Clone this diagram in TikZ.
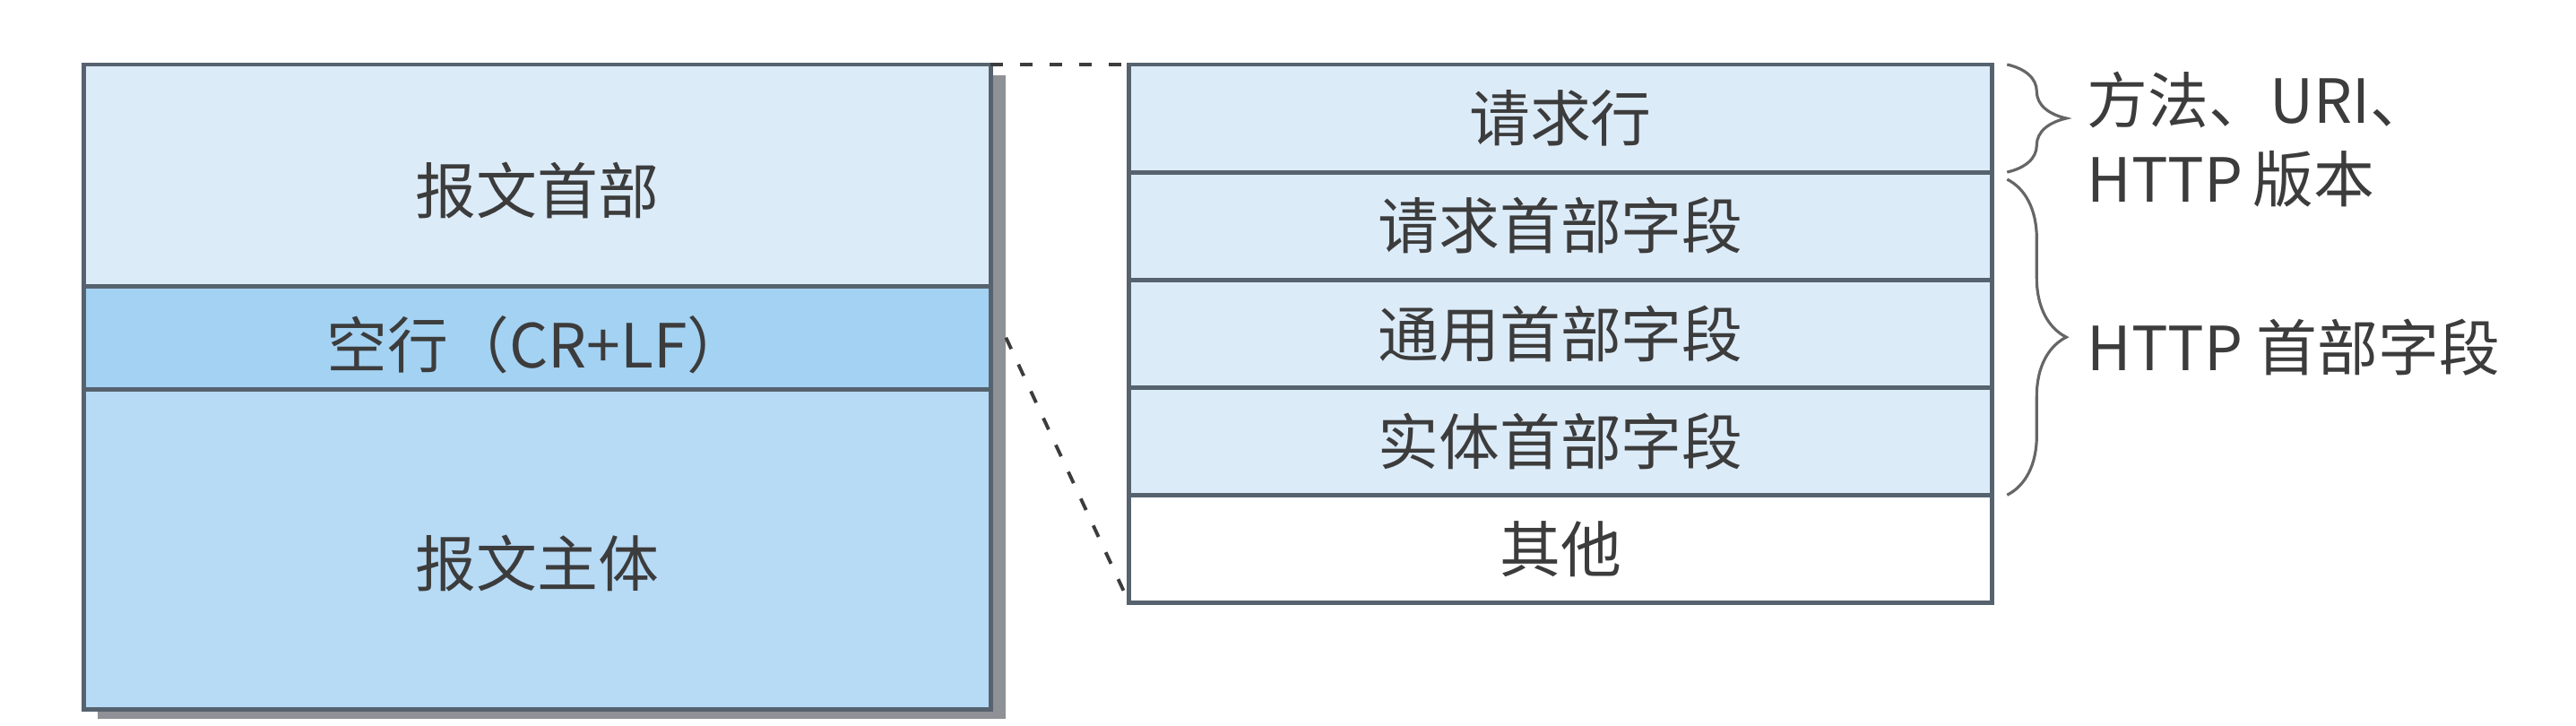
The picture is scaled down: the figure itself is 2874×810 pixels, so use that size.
\documentclass[tikz,border=0pt]{standalone}
\usepackage{fontspec}
\setmainfont{Noto Sans CJK SC}
\usepackage{xcolor}
\usetikzlibrary{positioning}
\usetikzlibrary{decorations.pathreplacing}
\definecolor{framecol}{HTML}{56636F}
\definecolor{palebl}{HTML}{DCEBF8}
\definecolor{midbl}{HTML}{A3D2F3}
\definecolor{bodybl}{HTML}{B7DAF5}
\definecolor{shadecol}{HTML}{8E9195}
\definecolor{inkcol}{HTML}{3C3C3C}
\definecolor{bracecol}{HTML}{666666}

\begin{document}
\begin{tikzpicture}[x=0.01cm,y=-0.01cm,
	lbl/.style={text=inkcol,inner sep=0pt,font=\fontsize{19.3}{25}\selectfont},
	part/.style={draw=framecol,line width=1.4pt,minimum width=10.11cm,inner sep=0pt,outer sep=0pt,anchor=north},
	row/.style={lbl,draw=framecol,line width=1.4pt,fill=palebl,minimum width=9.62cm,minimum height=1.2cm,outer sep=0pt,anchor=north},
	joinline/.style={draw=inkcol,line width=1.1pt,dash pattern=on 0.14cm off 0.19cm},
	curly/.style={draw=bracecol,line width=0.9pt,decorate,decoration={brace,amplitude=0.66cm,aspect=0.5}}]
		\def \lx {94};
		\def \rx {1105};
		\def \top {72};
		\def \bot {790};
		\path[fill=white,use as bounding box] (0,0) rectangle (2874,810);
		% shadow of the message box
		\fill[shadecol] (\lx+15,\top+12) rectangle (\rx+17,\bot+12);
		% message
		\node[part,fill=palebl,minimum height=2.47cm] (hdr) at ({(\lx+\rx)/2},\top) {};
		\node[part,fill=midbl,minimum height=1.15cm,below=0pt of hdr] (blank) {};
		\node[part,fill=bodybl,minimum height=3.57cm,below=0pt of blank] (body) {};
		\node[lbl] (hdrtxt) at ([yshift=-0.17cm]hdr.center) {报文首部};
		\node[lbl] (blanktxt) at ([yshift=-0.08cm]blank.center) {空行（CR+LF）};
		\node[lbl] (bodytxt) at ([yshift=-0.16cm]body.center) {报文主体};
		% header in detail
		\node[row] (reqline) at (1741,\top) {请求行};
		\foreach \nm/\txt [remember=\nm as \prev (initially reqline)] in {reqhdr/请求首部字段,genhdr/通用首部字段,enthdr/实体首部字段}
		{
			\node[row,below=0pt of \prev] (\nm) {\txt};
		}
		\node[row,fill=white,below=0pt of enthdr] (other) {其他};
		\draw[joinline] (hdr.north east) -- (reqline.north west);
		\draw[joinline] ([xshift=0.17cm]blank.east) -- (other.south west);
		% braces
		\draw[curly] ([xshift=0.17cm]reqline.north east) -- ([xshift=0.17cm]reqline.south east);
		\draw[curly] ([xshift=0.17cm,yshift=-0.08cm]reqhdr.north east) -- ([xshift=0.17cm]enthdr.south east);
		\node[lbl,anchor=west,align=left] (reqnote) at (2328,156) {方法、URI、\\HTTP\,版本};
		\node[lbl,anchor=west] (hdrnote) at (2328,388) {HTTP 首部字段};
\end{tikzpicture}
\end{document}
